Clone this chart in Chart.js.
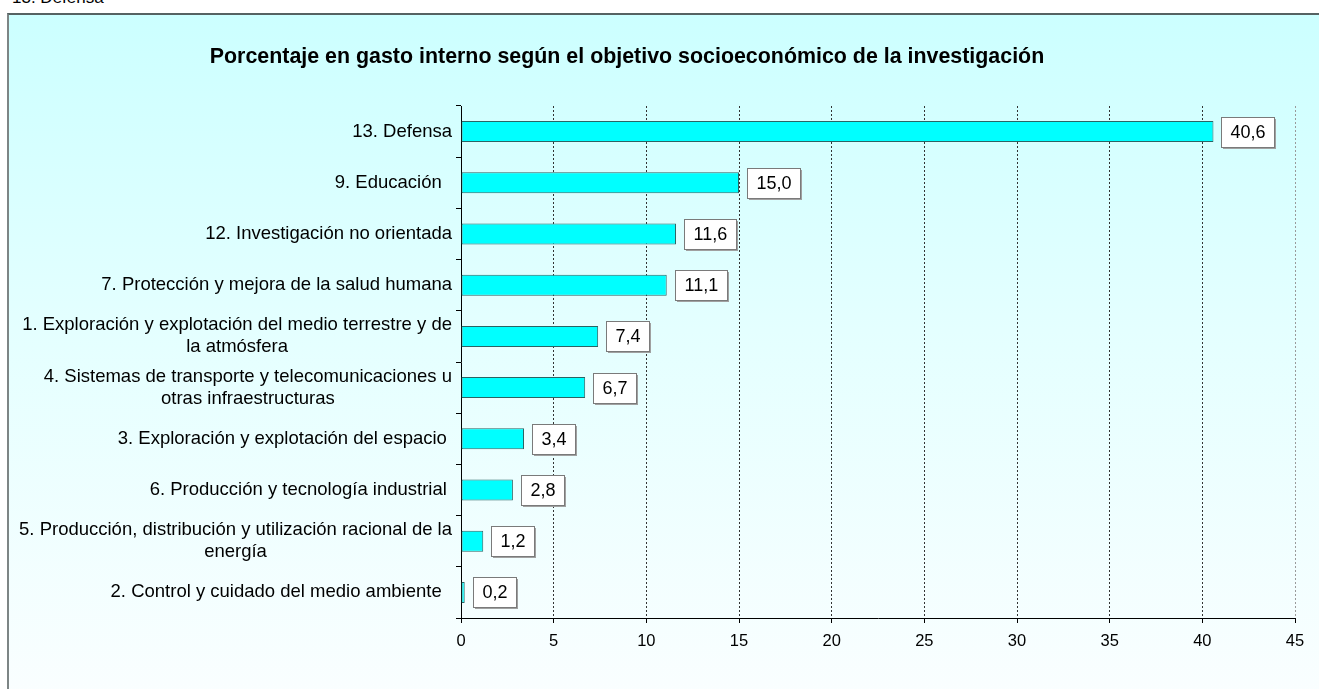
<!DOCTYPE html>
<html>
<head>
<meta charset="utf-8">
<script src="https://cdn.jsdelivr.net/npm/chart.js@4"></script>
<style>
    html, body { margin: 0; padding: 0; background: #ffffff; overflow: hidden; }
    #page { position: relative; width: 1319px; height: 689px; overflow: hidden; font-family: Arial, 'Liberation Sans', sans-serif; }
    #cut { position: absolute; left: 12px; top: -10px; font-size: 17px; line-height: 16px; color: #000; }
    #box {
        position: absolute; left: 7px; top: 13px; width: 1340px; height: 700px;
        border-left: 2px solid #7d8585; border-top: 2px solid #556262;
        background: linear-gradient(to bottom, #ccffff 0%, #e4ffff 45%, #fbfeff 100%);
    }
    #chart { position: absolute; left: 0; top: 0; }
</style>
</head>
<body>
<div id="page">
    <div id="cut">13. Defensa</div>
    <div id="box"></div>
    <canvas id="chart" width="1319" height="689"></canvas>
</div>
<script>
const FONT = "Arial, 'Liberation Sans', sans-serif";

const categories = [
    '13. Defensa',
    '9. Educación  ',
    '12. Investigación no orientada',
    '7. Protección y mejora de la salud humana',
    ['1. Exploración y explotación del medio terrestre y de', 'la atmósfera'],
    ['4. Sistemas de transporte y telecomunicaciones u', 'otras infraestructuras'],
    '3. Exploración y explotación del espacio ',
    '6. Producción y tecnología industrial ',
    ['5. Producción, distribución y utilización racional de la', 'energía'],
    '2. Control y cuidado del medio ambiente  '
];
const values = [40.6, 15.0, 11.6, 11.1, 7.4, 6.7, 3.4, 2.8, 1.2, 0.2];
const axisMin = 0;
const axisMax = 45;
const axisStep = 5;

const chartTitle = 'Porcentaje en gasto interno según el objetivo socioeconómico de la investigación';

// Title sits a bit left of the canvas centre, like the original sheet
const sheetTitle = {
    id: 'sheetTitle',
    afterDraw(chart) {
        const ctx = chart.ctx;
        ctx.save();
        ctx.font = `bold 21.4px ${FONT}`;
        ctx.fillStyle = '#000';
        ctx.textAlign = 'center';
        ctx.textBaseline = 'middle';
        ctx.fillText(chartTitle, 627, 57);
        ctx.restore();
    }
};

// Draws the category names left of the axis: block right-aligned, lines centred inside it
const categoryLabels = {
    id: 'categoryLabels',
    afterDraw(chart) {
        const ctx = chart.ctx;
        const yScale = chart.scales.y;
        const rightEdge = 452;
        const lineH = 22;
        ctx.save();
        ctx.font = `18.5px ${FONT}`;
        ctx.fillStyle = '#000';
        ctx.textAlign = 'center';
        ctx.textBaseline = 'middle';
        categories.forEach((cat, i) => {
            const lines = Array.isArray(cat) ? cat : [cat];
            const blockW = Math.max(...lines.map(l => ctx.measureText(l).width));
            const cx = rightEdge - blockW / 2;
            const y = yScale.getPixelForValue(i);
            const y0 = y - (lines.length - 1) * lineH / 2;
            lines.forEach((l, j) => ctx.fillText(l, cx, y0 + j * lineH));
        });
        ctx.restore();
    }
};

// Draws the boxed value labels to the right of each bar
const valueBoxes = {
    id: 'valueBoxes',
    afterDatasetsDraw(chart) {
        const ctx = chart.ctx;
        const meta = chart.getDatasetMeta(0);
        ctx.save();
        ctx.font = `18px ${FONT}`;
        ctx.textAlign = 'left';
        ctx.textBaseline = 'middle';
        meta.data.forEach((bar, i) => {
            const text = values[i].toFixed(1).replace('.', ',');
            const w = Math.round(ctx.measureText(text).width + 18);
            const h = 30;
            const x = Math.round(bar.x + 8) + 0.5;
            const y = Math.round(bar.y - h / 2) + 0.5;
            ctx.fillStyle = '#a0a0a0';
            ctx.fillRect(x + 1.5, y + 1.5, w, h);
            ctx.fillStyle = '#ffffff';
            ctx.fillRect(x, y, w, h);
            ctx.strokeStyle = '#7a7a7a';
            ctx.lineWidth = 1;
            ctx.strokeRect(x, y, w, h);
            ctx.fillStyle = '#000';
            ctx.fillText(text, x + 9, y + h / 2 + 1);
        });
        ctx.restore();
    }
};

new Chart(document.getElementById('chart'), {
    type: 'bar',
    data: {
        labels: categories,
        datasets: [{
            data: values,
            backgroundColor: '#00ffff',
            borderColor: '#2a6464',
            borderWidth: 1,
            borderSkipped: false,
            barPercentage: 0.41,
            categoryPercentage: 1
        }]
    },
    options: {
        indexAxis: 'y',
        responsive: false,
        animation: false,
        layout: { padding: { left: 0, right: 24, top: 106, bottom: 0 } },
        plugins: {
            legend: { display: false },
            tooltip: { enabled: false },
            title: { display: false }
        },
        scales: {
            x: {
                min: axisMin,
                max: axisMax,
                afterFit: scale => { scale.height = 71; },
                ticks: {
                    stepSize: axisStep,
                    color: '#000',
                    padding: 9,
                    font: { family: FONT, size: 16.5 },
                    callback: v => v
                },
                grid: {
                    color: c => c.tick.value === axisMin ? 'rgba(0,0,0,0)' : (c.tick.value === axisMax ? '#9a9a9a' : '#333'),
                    tickColor: '#000',
                    tickLength: 5
                },
                border: { color: '#000', width: 1, dash: [2, 2] }
            },
            y: {
                afterFit: scale => { scale.width = 461; },
                ticks: { display: false },
                grid: {
                    drawOnChartArea: false,
                    drawTicks: true,
                    tickLength: 5,
                    tickColor: '#000',
                    offset: true
                },
                border: { color: '#000', width: 1 }
            }
        }
    },
    plugins: [sheetTitle, categoryLabels, valueBoxes]
});
</script>
</body>
</html>
